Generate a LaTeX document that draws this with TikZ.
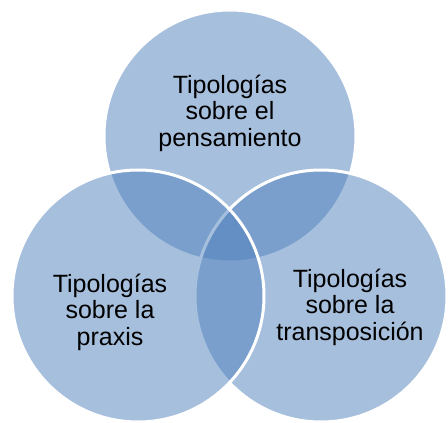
\documentclass[tikz,border=0pt]{standalone}
\usepackage{fontspec}
\setmainfont{Liberation Sans}
\definecolor{vennblue}{RGB}{79,129,189}
\tikzset{
  venn/.style={fill=vennblue, fill opacity=0.5, draw=white, draw opacity=1, line width=3pt},
  lbl/.style={align=center, inner sep=0pt, anchor=base, text=black, font=\fontsize{25}{26.5}\selectfont}
}
\begin{document}
\begin{tikzpicture}[x=1pt,y=-1pt]
\useasboundingbox[fill=white] (0,0) rectangle (448,423);
\coordinate (ct) at (230,136);
\coordinate (cl) at (138,296);
\coordinate (cr) at (321,296);
\path[venn] (ct) circle[radius=126];
\path[venn] (cr) circle[radius=126];
\path[venn] (cl) circle[radius=126];
\node[lbl] (tt) at (230,146) {Tipologías\\sobre el\\pensamiento};
\node[lbl] (tl) at (110,345) {Tipologías\\sobre la\\praxis};
\node[lbl] (tr) at (350,340) {Tipologías\\sobre la\\transposición};
\end{tikzpicture}
\end{document}
